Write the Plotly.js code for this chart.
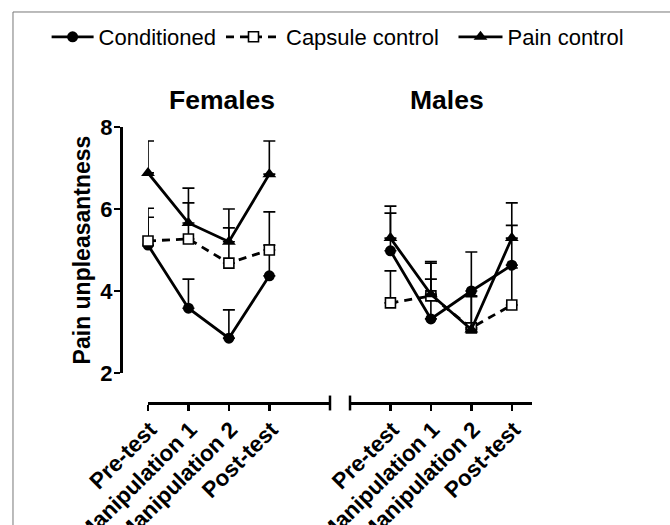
<!DOCTYPE html>
<html>
<head>
<meta charset="utf-8">
<script src="https://cdn.plot.ly/plotly-3.0.1.min.js"></script>
<style>html,body{margin:0;padding:0;background:#fff;}#chart{width:670px;height:525px;}</style>
</head>
<body>
<div id="chart"></div>
<script>
// ---- data ----
var categories = ['Pre-test', 'Manipulation 1', 'Manipulation 2', 'Post-test'];
var seriesNames = ['Conditioned', 'Capsule control', 'Pain control'];

var femalesConditioned    = [5.12, 3.58, 2.85, 4.37];
var femalesConditionedErr = [0.90, 0.71, 0.69, 1.56];
var femalesCapsule        = [5.22, 5.27, 4.68, 5.00];
var femalesCapsuleErr     = [0.58, 0.88, 0.86, 0.12];
var femalesPain           = [6.88, 5.66, 5.20, 6.85];
var femalesPainErr        = [0.78, 0.85, 0.80, 0.81];

var malesConditioned      = [4.98, 3.32, 4.00, 4.63];
var malesConditionedErr   = [0.92, 0.97, 0.95, 0.97];
var malesCapsule          = [3.71, 3.88, 3.10, 3.66];
var malesCapsuleErr       = [0.78, 0.80, 0.78, 0.90];
var malesPain             = [5.29, 3.92, 3.06, 5.29];
var malesPainErr          = [0.78, 0.80, 0.80, 0.86];

var panelTitles = ['Females', 'Males'];
var yTitle = 'Pain unpleasantness';

// ---- styles ----
var FONT = 'Liberation Sans, Arial, Helvetica, sans-serif';
var styles = [
  {symbol: 'circle', size: 11, fill: '#000', dash: 'solid', legend: 'legend'},
  {symbol: 'square', size: 10, fill: '#fff', dash: '8px,6px', legend: 'legend2'},
  {symbol: 'triangle-up', size: 12, fill: '#000', dash: 'solid', legend: 'legend3'}
];

function mk(name, vals, errs, idx, xa, ya, showLegend) {
  var s = styles[idx];
  return {
    type: 'scatter', mode: 'lines+markers', name: name,
    x: categories, y: vals, xaxis: xa, yaxis: ya,
    legend: s.legend, legendgroup: name, showlegend: showLegend, cliponaxis: false,
    line: {color: '#000', width: 2.8, dash: s.dash},
    marker: {symbol: s.symbol, size: s.size, color: s.fill,
             line: {color: '#000', width: idx === 1 ? 1.6 : 0}},
    error_y: {type: 'data', symmetric: false, array: errs,
              arrayminus: errs.map(function(){return 0;}),
              color: '#000', thickness: 1.6, width: 6}
  };
}

var traces = [
  mk(seriesNames[0], femalesConditioned, femalesConditionedErr, 0, 'x', 'y', true),
  mk(seriesNames[1], femalesCapsule, femalesCapsuleErr, 1, 'x', 'y', true),
  mk(seriesNames[2], femalesPain, femalesPainErr, 2, 'x', 'y', true),
  mk(seriesNames[0], malesConditioned, malesConditionedErr, 0, 'x2', 'y2', false),
  mk(seriesNames[1], malesCapsule, malesCapsuleErr, 1, 'x2', 'y2', false),
  mk(seriesNames[2], malesPain, malesPainErr, 2, 'x2', 'y2', false)
];

var xCommon = {
  type: 'category', anchor: 'free', position: 0,
  showline: true, linewidth: 2.5, linecolor: '#000',
  ticks: 'outside', ticklen: 6, tickwidth: 2.5, tickcolor: '#000',
  tickangle: -45, ticklabelshift: 2, ticklabelstandoff: -3,
  tickfont: {family: FONT, size: 22.5, color: '#000', weight: 'bold'},
  showgrid: false, zeroline: false, fixedrange: true
};

function legendAt(x, w) {
  return {orientation: 'h', x: x, y: 1.326, xanchor: 'left', yanchor: 'middle',
          font: {family: FONT, size: 22, color: '#000'}, bgcolor: 'rgba(0,0,0,0)',
          itemwidth: w};
}

var layout = {
  width: 670, height: 525,
  margin: {l: 121, r: 138, t: 127, b: 122},
  paper_bgcolor: '#fff', plot_bgcolor: '#fff',
  font: {family: FONT, color: '#000'},
  showlegend: true,
  legend: legendAt(-0.181, 42),
  legend2: legendAt(0.2433, 55),
  legend3: legendAt(0.809, 44),
  xaxis: Object.assign({}, xCommon, {domain: [0.0657, 0.5085], range: [0, 4.5]}),
  xaxis2: Object.assign({}, xCommon, {domain: [0.5572, 1], range: [-1, 3.5]}),
  yaxis: {
    domain: [0.1087, 1], range: [2, 8], anchor: 'free', position: 0,
    showline: true, linewidth: 2.5, linecolor: '#000',
    ticks: 'outside', ticklen: 6, tickwidth: 2.5, tickcolor: '#000',
    tickmode: 'linear', tick0: 2, dtick: 2, ticklabelstandoff: -3,
    tickfont: {family: FONT, size: 22, color: '#000', weight: 'bold'},
    showgrid: false, zeroline: false, fixedrange: true,
    title: {text: yTitle, font: {family: FONT, size: 23, color: '#000', weight: 'bold'}, standoff: 2}
  },
  yaxis2: {domain: [0.1087, 1], range: [2, 8], anchor: 'x2', visible: false, fixedrange: true},
  annotations: [
    {text: panelTitles[0], xref: 'paper', yref: 'paper', x: 0.2457, y: 1.098,
     xanchor: 'center', yanchor: 'middle', showarrow: false,
     font: {family: FONT, size: 26.5, color: '#000', weight: 'bold'}},
    {text: panelTitles[1], xref: 'paper', yref: 'paper', x: 0.793, y: 1.098,
     xanchor: 'center', yanchor: 'middle', showarrow: false,
     font: {family: FONT, size: 26.5, color: '#000', weight: 'bold'}}
  ],
  shapes: [
    // axis break end bars
    {type: 'line', xref: 'x domain', yref: 'paper', x0: 1, x1: 1, y0: -0.027, y1: 0.027,
     line: {color: '#000', width: 2.5}},
    {type: 'line', xref: 'x2 domain', yref: 'paper', x0: 0, x1: 0, y0: -0.027, y1: 0.027,
     line: {color: '#000', width: 2.5}},
    // figure frame (top and left edges)
    {type: 'line', xref: 'paper', yref: 'paper', x0: -0.2628, x1: 1.34, y0: 1.4167, y1: 1.4167,
     line: {color: '#777', width: 1}},
    {type: 'line', xref: 'paper', yref: 'paper', x0: -0.2628, x1: -0.2628, y0: 1.4167, y1: -0.45,
     line: {color: '#777', width: 1}}
  ]
};

Plotly.newPlot('chart', traces, layout, {displayModeBar: false, staticPlot: true});
</script>
</body>
</html>
